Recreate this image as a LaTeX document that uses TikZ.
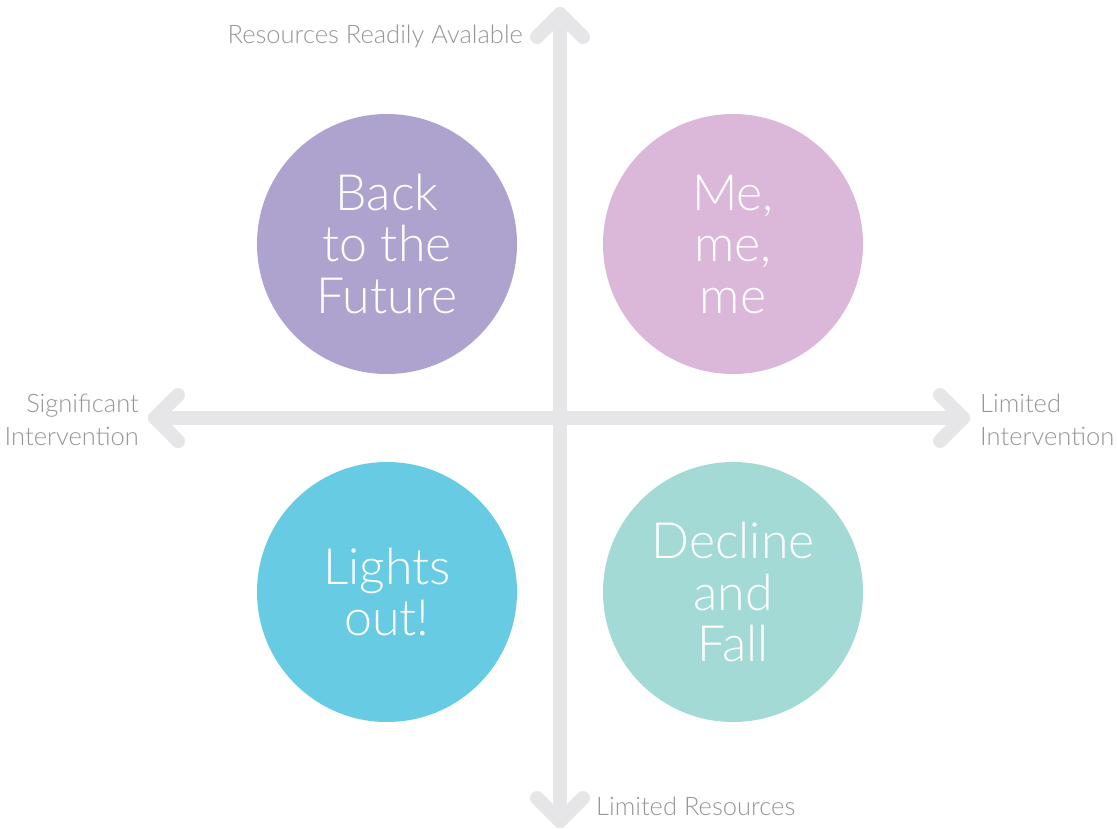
\documentclass[tikz,border=0pt]{standalone}
\usepackage{fontspec}
\setmainfont{Lato}[UprightFont=* Light]
\usepackage{tikz}
\definecolor{pastelpurple}{RGB}{174,163,206}
\definecolor{pastelpink}{RGB}{219,184,217}
\definecolor{pastelcyan}{RGB}{102,203,227}
\definecolor{pastelteal}{RGB}{164,218,213}
\definecolor{axisgray}{RGB}{230,230,232}
\definecolor{labelgray}{RGB}{150,150,150}
\tikzset{eje/.style={line width=14pt, draw=axisgray, line cap=round, line join=round}}
\tikzset{cuadrante/.style={circle, minimum size=260pt, inner sep=0pt, text=white, align=center,
    font=\fontsize{50}{51.5}\selectfont}}
\tikzset{etiqueta/.style={inner sep=0pt, text=labelgray, font=\fontsize{25.5}{33}\selectfont}}

\begin{document}
\begin{tikzpicture}[x=1pt, y=-1pt]
            \useasboundingbox (0,0) rectangle (1118,828);
            \coordinate (top) at (560,14);
            \coordinate (bottom) at (560,821);
            \coordinate (left) at (155,418);
            \coordinate (right) at (963,418);

            % ejes
            \draw[eje] (bottom) -- (top);
            \draw[eje] (left) -- (right);
            \draw[eje] (top) ++(-23,23) -- (top) -- ++(23,23);
            \draw[eje] (bottom) ++(-23,-23) -- (bottom) -- ++(23,-23);
            \draw[eje] (left) ++(23,-23) -- (left) -- ++(23,23);
            \draw[eje] (right) ++(-23,-23) -- (right) -- ++(-23,23);

            % cuadrantes
            \node[cuadrante, fill=pastelpurple] (futuro) at (387,244) {Back\\to the\\Future};
            \node[cuadrante, fill=pastelpink] (yo) at (733,244) {Me,\\me,\\me};
            \node[cuadrante, fill=pastelcyan] (luces) at (387,592) {Lights\\out!};
            \node[cuadrante, fill=pastelteal] (declive) at (733,592) {Decline\\and\\Fall};

            % etiquetas
            \node[etiqueta, anchor=base east] (disponibles) at (523,43) {Resources Readily Avalable};
            \node[etiqueta, anchor=base west] (limitados) at (596,815) {Limited Resources};
            \node[etiqueta, anchor=east, align=right] (significativa) at (139,420) {Significant\\Intervention};
            \node[etiqueta, anchor=west, align=left] (limitada) at (980,420) {Limited\\Intervention};
        \end{tikzpicture}
\end{document}
